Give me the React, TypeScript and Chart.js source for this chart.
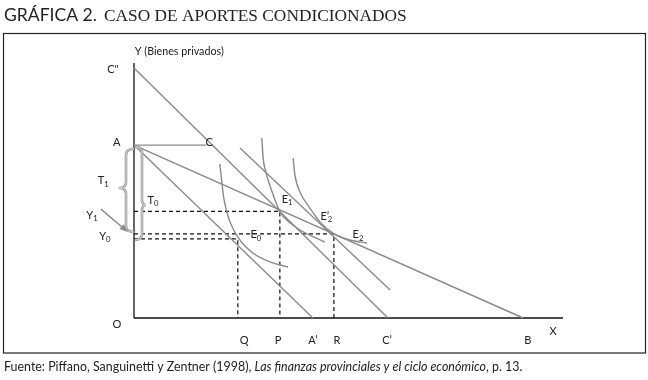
import React, { useEffect, useRef } from "react";
import { Chart, registerables } from "chart.js";
Chart.register(...registerables);

// ---------- data (model units, origin O = (0,0)) ----------
const axisYPts = [[0, 0], [0, 10]];
const axisXPts = [[0, 0], [10, 0]];

const lineCppCp = [[0, 9.8], [5.92, 0]]; // C'' -> C'
const lineAC = [[0, 6.78], [1.68, 6.78]]; // A -> C
const lineAAp = [[0, 6.78], [4.17, 0]]; // A -> A'
const lineAB = [[0, 6.78], [9.07, 0]]; // A -> B
const lineParallel = [[2.47, 6.67], [5.97, 1.1]];

const ic0 = [[2.0, 6.04], [2.1, 4.63], [2.24, 3.76], [2.45, 3.1], [2.77, 2.55], [3.17, 2.2], [3.59, 2.0]];
const ic1 = [[2.98, 7.06], [3.01, 6.27], [3.05, 5.88], [3.22, 4.94], [3.4, 4.18], [3.8, 3.53], [4.45, 2.98]];
const ic2 = [[3.71, 6.27], [3.75, 5.61], [3.87, 4.94], [4.1, 4.31], [4.34, 3.76], [4.66, 3.3], [5.03, 3.06], [5.43, 2.94]];

const eqX = [2.42, 3.4, 4.66]; // Q, P, R
const eqY = [3.1, 4.18, 3.3]; // E0, E1, E2

const xTickLabels = ["Q", "P", "A’", "R", "C’", "B"];
const xTickValues = [2.57, 3.36, 4.17, 4.73, 5.9, 9.18];
const xTickRow = -0.9;

const plainLabels = ['C"', "A", "C", "O", "X"];
const plainX = [-0.49, -0.4, 1.75, -0.4, 9.77];
const plainY = [9.76, 6.9, 6.9, -0.27, -0.51];

const subMain = ["T", "T", "Y", "Y", "E", "E’", "E", "E"];
const subIdx = ["1", "0", "1", "0", "1", "2", "2", "0"];
const subX = [-0.72, 0.44, -0.98, -0.68, 3.57, 4.5, 5.22, 2.84];
const subY = [5.41, 4.63, 4.04, 3.22, 4.67, 4.0, 3.29, 3.29];

const yAxisTitle = "Y (Bienes privados)";
const titleLead = "GRÁFICA 2.";
const titleRest = "CASO DE APORTES CONDICIONADOS";
const sourceA = "Fuente: Piffano, Sanguinetti y Zentner (1998), ";
const sourceB = "Las finanzas provinciales y el ciclo económico";
const sourceC = ", p. 13.";

// braces: [xVertical, yTop, yBottom, yTip, xTip, xEnd]
const braceT0 = [0.186, 6.71, 3.06, 4.43, 0.28, 0.02];
const braceT1 = [-0.186, 6.63, 3.37, 5.1, -0.36, 0.0];
const arrowY1 = [[-0.77, 4.27], [-0.14, 3.37]];

const SANS = "Lato, 'Open Sans', sans-serif";
const SERIF = "'Liberation Serif', serif";
const GRAY = "#8a8a8a";
const LABEL_SIZE = 11;

const pts = (a: number[][]) => a.map(([x, y]) => ({ x, y }));

function fitFont(ctx: CanvasRenderingContext2D, text: string, family: string, width: number, style = "") {
  ctx.font = `${style} 20px ${family}`;
  const w = ctx.measureText(text).width;
  return (20 * width) / w;
}

const annot = {
  id: "annot",
  afterDatasetsDraw(chart: any) {
    const ctx: CanvasRenderingContext2D = chart.ctx;
    const xs = chart.scales.x;
    const ys = chart.scales.y;
    const X = (v: number) => xs.getPixelForValue(v);
    const Y = (v: number) => ys.getPixelForValue(v);
    ctx.save();

    // frame
    ctx.strokeStyle = "#222";
    ctx.lineWidth = 1.2;
    ctx.strokeRect(3.5, 33.5, 642, 319.5);

    // title
    ctx.fillStyle = "#222";
    ctx.textBaseline = "alphabetic";
    ctx.textAlign = "left";
    let s = fitFont(ctx, titleLead, SANS, 93);
    ctx.font = `${s}px ${SANS}`;
    ctx.fillText(titleLead, 4, 21);
    s = fitFont(ctx, titleRest, SERIF, 303);
    ctx.font = `${s}px ${SERIF}`;
    ctx.fillText(titleRest, 104, 21);

    // source
    ctx.font = `20px ${SANS}`;
    const wa = ctx.measureText(sourceA).width + ctx.measureText(sourceC).width;
    ctx.font = `italic 20px ${SANS}`;
    const wb = ctx.measureText(sourceB).width;
    const fs = (20 * 519) / (wa + wb);
    let cx = 4;
    ctx.font = `${fs}px ${SANS}`;
    ctx.fillText(sourceA, cx, 371);
    cx += ctx.measureText(sourceA).width;
    ctx.font = `italic ${fs}px ${SANS}`;
    ctx.fillText(sourceB, cx, 371);
    cx += ctx.measureText(sourceB).width;
    ctx.font = `${fs}px ${SANS}`;
    ctx.fillText(sourceC, cx, 371);

    // y axis title
    ctx.fillStyle = "#222";
    const ys2 = fitFont(ctx, yAxisTitle, SANS, 89);
    ctx.font = `${ys2}px ${SANS}`;
    ctx.textBaseline = "middle";
    ctx.fillText(yAxisTitle, X(0.02), Y(10.43));

    // plain labels
    ctx.textAlign = "center";
    ctx.font = `${LABEL_SIZE}px ${SANS}`;
    plainLabels.forEach((t, i) => ctx.fillText(t, X(plainX[i]), Y(plainY[i])));
    xTickLabels.forEach((t, i) => ctx.fillText(t, X(xTickValues[i]), Y(xTickRow)));

    // subscript labels
    subMain.forEach((m, i) => {
      const size = LABEL_SIZE;
      ctx.font = `${size}px ${SANS}`;
      const w1 = ctx.measureText(m).width;
      ctx.font = `${size * 0.7}px ${SANS}`;
      const w2 = ctx.measureText(subIdx[i]).width;
      const left = X(subX[i]) - (w1 + w2) / 2;
      const base = Y(subY[i]) + size * 0.36;
      ctx.textAlign = "left";
      ctx.textBaseline = "alphabetic";
      ctx.font = `${size}px ${SANS}`;
      ctx.fillText(m, left, base);
      ctx.font = `${size * 0.7}px ${SANS}`;
      ctx.fillText(subIdx[i], left + w1 - (m.length > 1 ? 1.5 : 0), base + 2.5);
    });

    // braces
    const drawBrace = (b: number[]) => {
      const [xv, yt, yb, ytip, xtip, xend] = b;
      const pxv = X(xv), pyt = Y(yt), pyb = Y(yb), pyt2 = Y(ytip), pxt = X(xtip), pxe = X(xend);
      const r = 6;
      ctx.beginPath();
      ctx.moveTo(pxe, pyt);
      ctx.quadraticCurveTo(pxv, pyt, pxv, pyt + r);
      ctx.lineTo(pxv, pyt2 - r);
      ctx.quadraticCurveTo(pxv, pyt2, pxt, pyt2);
      ctx.quadraticCurveTo(pxv, pyt2, pxv, pyt2 + r);
      ctx.lineTo(pxv, pyb - r);
      ctx.quadraticCurveTo(pxv, pyb, pxe, pyb);
      ctx.strokeStyle = "#9a9a9a";
      ctx.lineWidth = 2.6;
      ctx.stroke();
      ctx.strokeStyle = "#e4e4e4";
      ctx.lineWidth = 0.8;
      ctx.stroke();
    };
    drawBrace(braceT0);
    drawBrace(braceT1);

    // arrow Y1
    const [a0, a1] = arrowY1;
    const x0 = X(a0[0]), y0 = Y(a0[1]), x1 = X(a1[0]), y1 = Y(a1[1]);
    const ang = Math.atan2(y1 - y0, x1 - x0);
    ctx.strokeStyle = GRAY;
    ctx.fillStyle = GRAY;
    ctx.lineWidth = 1.4;
    ctx.beginPath();
    ctx.moveTo(x0, y0);
    ctx.lineTo(x1 - 6 * Math.cos(ang), y1 - 6 * Math.sin(ang));
    ctx.stroke();
    ctx.beginPath();
    ctx.moveTo(x1, y1);
    ctx.lineTo(x1 - 9 * Math.cos(ang - 0.35), y1 - 9 * Math.sin(ang - 0.35));
    ctx.lineTo(x1 - 9 * Math.cos(ang + 0.35), y1 - 9 * Math.sin(ang + 0.35));
    ctx.closePath();
    ctx.fill();

    ctx.restore();
  },
};

export default function App() {
  const ref = useRef<HTMLCanvasElement>(null);
  useEffect(() => {
    if (!ref.current) return;
    const gray = (data: number[][], extra: any = {}) => ({
      data: pts(data),
      showLine: true,
      borderColor: GRAY,
      borderWidth: 1.4,
      pointRadius: 0,
      fill: false,
      ...extra,
    });
    const dashed = (data: number[][]) => ({
      data: pts(data),
      showLine: true,
      borderColor: "#111",
      borderWidth: 1.2,
      borderDash: [4, 3],
      pointRadius: 0,
      fill: false,
    });
    const curve = { cubicInterpolationMode: "monotone" };
    const datasets: any[] = [
      gray(lineCppCp),
      gray(lineAC),
      gray(lineAAp),
      gray(lineAB),
      gray(lineParallel),
      gray(ic0, curve),
      gray(ic1, curve),
      gray(ic2, curve),
      ...eqX.map((qx, i) => dashed([[0, eqY[i]], [qx, eqY[i]], [qx, 0]])),
      { data: pts(axisYPts), showLine: true, borderColor: "#111", borderWidth: 1.3, pointRadius: 0 },
      { data: pts(axisXPts), showLine: true, borderColor: "#111", borderWidth: 1.3, pointRadius: 0 },
    ];
    const chart = new Chart(ref.current, {
      type: "scatter",
      data: { datasets },
      options: {
        responsive: false,
        animation: false,
        devicePixelRatio: 1,
        layout: { padding: 0 },
        plugins: { legend: { display: false }, tooltip: { enabled: false }, title: { display: false } },
        scales: {
          x: { type: "linear", display: false, min: -134 / 42.9, max: (648 - 134) / 42.9 },
          y: { type: "linear", display: false, min: -62 / 25.5, max: 318 / 25.5 },
        },
        elements: { line: { tension: 0 } },
      },
      plugins: [annot],
    } as any);
    return () => chart.destroy();
  }, []);
  return (
    <div style={{ position: "absolute", left: 0, top: 0, width: 648, height: 380, background: "#fff" }}>
      <canvas ref={ref} width={648} height={380} style={{ width: 648, height: 380, display: "block" }} />
    </div>
  );
}
